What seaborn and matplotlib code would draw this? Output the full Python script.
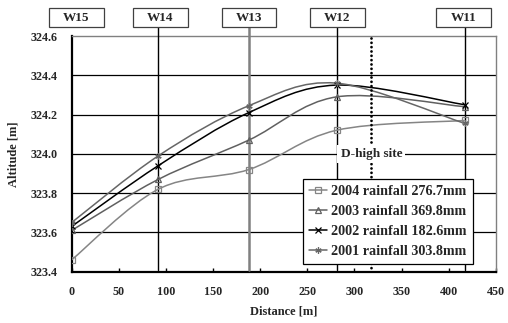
import matplotlib
matplotlib.use('Agg')
import matplotlib.pyplot as plt
import matplotlib.transforms as mtransforms
from matplotlib.path import Path
from matplotlib.patches import PathPatch, Rectangle
from matplotlib.lines import Line2D
import numpy as np
import seaborn as sns

# Data
distance = [0, 92, 188, 281, 417]
alt_2004 = [323.46, 323.82, 323.92, 324.12, 324.17]
alt_2003 = [323.61, 323.87, 324.07, 324.29, 324.24]
alt_2002 = [323.63, 323.94, 324.21, 324.35, 324.25]
alt_2001 = [323.65, 323.99, 324.245, 324.36, 324.155]
labels = ['2004 rainfall 276.7mm', '2003 rainfall 369.8mm',
          '2002 rainfall 182.6mm', '2001 rainfall 303.8mm']
wells = ['W15', 'W14', 'W13', 'W12', 'W11']
well_x = [0, 92, 188, 281, 417]
dhigh_x = 318

sns.set_style('white')
plt.rcParams['font.family'] = ['Liberation Serif', 'DejaVu Serif']
plt.rcParams['font.weight'] = 'bold'


def smooth_path(xs, ys):
    # Excel-style smoothed line drawn as cubic Bezier segments
    pts = np.column_stack([xs, ys]).astype(float)
    n = len(pts)
    verts = [pts[0]]
    codes = [Path.MOVETO]
    for i in range(n - 1):
        p0 = pts[max(i - 1, 0)]
        p1 = pts[i]
        p2 = pts[i + 1]
        p3 = pts[min(i + 2, n - 1)]
        c1 = p1 + (p2 - p0) / 6.0
        c2 = p2 - (p3 - p1) / 6.0
        verts += [c1, c2, p2]
        codes += [Path.CURVE4] * 3
    return Path(verts, codes)


fig = plt.figure(figsize=(5.08, 3.23), dpi=100)
ax = fig.add_axes([0.141, 0.159, 0.835, 0.7295])

series = [
    (alt_2004, '#858585', 's', labels[0]),
    (alt_2003, '#606060', '^', labels[1]),
    (alt_2002, '#000000', 'x', labels[2]),
    (alt_2001, '#666666', (6, 2, 0), labels[3]),
]

handles = []
for vals, col, mk, lab in series:
    ax.add_patch(PathPatch(smooth_path(distance, vals), fill=False,
                           edgecolor=col, lw=1.1, zorder=4))
    sns.lineplot(x=distance, y=vals, ax=ax, linestyle='', marker=mk,
                 markersize=4.5, markerfacecolor='none', markeredgecolor=col,
                 markeredgewidth=0.9, color=col, zorder=5)
    handles.append(Line2D([], [], color=col, lw=1.1, marker=mk, markersize=4.5,
                          markerfacecolor='none', markeredgecolor=col,
                          markeredgewidth=0.9))

ax.set_xlim(0, 450)
ax.set_ylim(323.4, 324.6)
ax.set_xticks(range(0, 451, 50))
ax.set_yticks([323.4, 323.6, 323.8, 324.0, 324.2, 324.4, 324.6])
ax.set_yticklabels(['323.4', '323.6', '323.8', '324.0', '324.2', '324.4', '324.6'])
ax.tick_params(axis='both', labelsize=8.7)
ax.tick_params(axis='x', direction='in', length=3, width=1, color='black',
               bottom=True, pad=10)
ax.tick_params(axis='y', length=0, pad=10)
for t in ax.get_xticklabels() + ax.get_yticklabels():
    t.set_fontweight('bold')

for y in [323.6, 323.8, 324.0, 324.2, 324.4]:
    ax.axhline(y, color='black', lw=0.9, zorder=1)

for sp in ['left', 'bottom']:
    ax.spines[sp].set_color('black')
    ax.spines[sp].set_linewidth(1.6)
for sp in ['top', 'right']:
    ax.spines[sp].set_color('#808080')
    ax.spines[sp].set_linewidth(1.0)

# Well marker lines and boxes above the plot
trans = mtransforms.blended_transform_factory(ax.transData, ax.transAxes)
line_cols = {'W14': 'black', 'W13': '#808080', 'W12': 'black', 'W11': 'black'}
line_lws = {'W14': 1.0, 'W13': 1.8, 'W12': 1.0, 'W11': 1.0}
box_cx = [5, 94, 188, 282, 416]
for name, wx, cx in zip(wells, well_x, box_cx):
    if name != 'W15':
        ax.plot([wx, wx], [0.008, 1.038], transform=trans, color=line_cols[name],
                lw=line_lws[name], clip_on=False, zorder=3)
    ax.add_patch(Rectangle((cx - 29, 1.038), 58, 0.081, transform=trans,
                           facecolor='white', edgecolor='#404040', lw=0.9,
                           clip_on=False, zorder=6))
    ax.text(cx, 1.0785, name, transform=trans, ha='center', va='center',
            fontsize=9.5, fontweight='bold', zorder=7)

# D-high site dotted line
ax.plot([dhigh_x, dhigh_x], [323.4, 324.6], color='black', lw=2.0,
        linestyle=(0, (0.01, 1.55)), dash_capstyle='round', zorder=6)
ax.text(dhigh_x, 324.0, 'D-high site', ha='center', va='center', fontsize=9.5,
        fontweight='bold', zorder=7,
        bbox=dict(boxstyle='square,pad=0.25', facecolor='white', edgecolor='none'))

leg = ax.legend(handles, labels, loc='upper left', bbox_to_anchor=(0.545, 0.393),
                borderaxespad=0, fancybox=False, edgecolor='black', framealpha=1,
                prop={'size': 10.2, 'weight': 'bold'}, handlelength=1.3,
                handletextpad=0.3, labelspacing=0.5, borderpad=0.42)
leg.get_frame().set_linewidth(0.9)
leg.set_zorder(10)

ax.set_xlabel('Distance [m]', fontsize=9, fontweight='bold', labelpad=6)
ax.set_ylabel('Altitude [m]', fontsize=9, fontweight='bold', labelpad=8)

fig.savefig('out.png', dpi=100)
